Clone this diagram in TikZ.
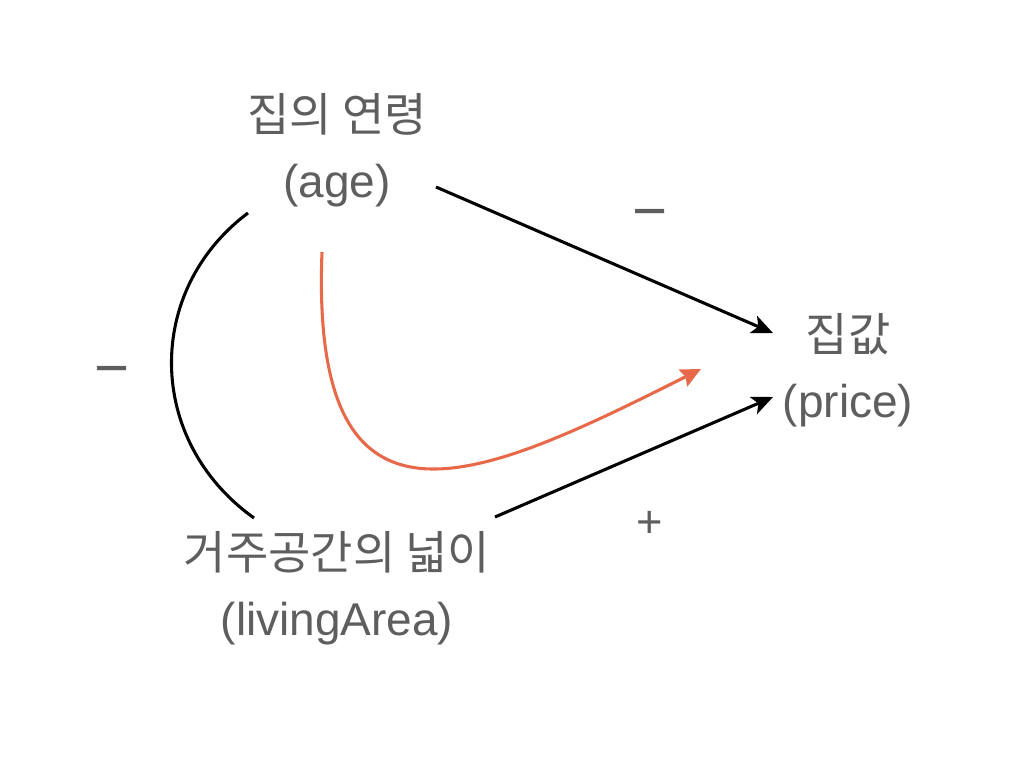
\documentclass[tikz,border=0pt]{standalone}
\usepackage{fontspec}
\setmainfont{Liberation Sans}
\newfontfamily\kr{Noto Sans CJK KR}
\usetikzlibrary{arrows.meta,calc}
\definecolor{txtgray}{HTML}{5E5E5E}
\definecolor{orangeln}{HTML}{E8694A}
\begin{document}
\begin{tikzpicture}[x=0.75pt,y=-0.75pt,
  lbl/.style={text=txtgray,align=center,inner sep=0pt,font=\fontsize{34.5}{49.5}\selectfont},
  sign/.style={text=txtgray,inner sep=0pt,anchor=base},
  link/.style={line width=2.3pt,black},
  arr/.style={link,-{Stealth[length=16pt,width=14pt,inset=4pt]}},
  oarr/.style={line width=2.3pt,orangeln,-{Stealth[length=15pt,width=14pt,inset=2pt]}}]
\useasboundingbox (0,0) rectangle (1016,764);
\node[lbl] (age) at (337,150) {{\kr\fontsize{34.5}{49.5}\selectfont 집의 연령}\\(age)};
\node[lbl] (price) at (848,370) {{\kr\fontsize{34.5}{49.5}\selectfont 집값}\\(price)};
\node[lbl] (living) at (337,588) {{\kr\fontsize{34.5}{49.5}\selectfont 거주공간의 넓이}\\(livingArea)};
\draw[arr] ($(age.center)+(99,37)$) -- ($(price.center)+(-75,-37)$);
\draw[arr] ($(living.center)+(158,-71)$) -- ($(price.center)+(-75,27)$);
\draw[link] ($(age.center)+(-89,63)$) .. controls +(-103,77) and +(-109,-78) .. ($(living.center)+(-83,-70)$);
\draw[oarr] ($(age.center)+(-15,102)$) .. controls +(-12,308) and +(-221,111) .. ($(price.center)+(-147,-1)$);
\node[sign,font=\fontsize{45}{50}\selectfont] (m1) at (650,231) {−};
\node[sign,font=\fontsize{45}{50}\selectfont] (m2) at (112,388) {−};
\node[sign,font=\fontsize{34}{38}\selectfont] (p1) at (650,537) {+};
\end{tikzpicture}
\end{document}
